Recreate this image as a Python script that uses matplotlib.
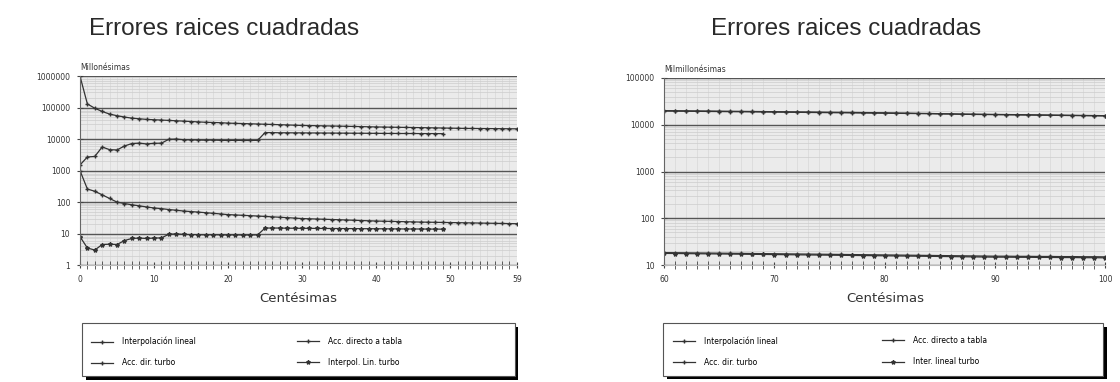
import numpy as np
import matplotlib
matplotlib.use("Agg")
import matplotlib.pyplot as plt
from matplotlib.patches import Rectangle
from matplotlib.ticker import FixedLocator, NullFormatter

# Datos (errores en millonesimas / milmillonesimas)
x_izq = list(range(0, 60))
acc_tabla_izq = [1000000, 130000, 95000, 75000, 62000, 55000, 50000, 46000, 44000, 42000,
                 41000, 40000, 39000, 38000, 37000, 36000, 35000, 34000, 33500, 33000,
                 32000, 31500, 31000, 30500, 30000, 29500, 29000, 28500, 28000, 27500,
                 27000, 26800, 26500, 26200, 26000, 25700, 25400, 25100, 24800, 24500,
                 24200, 24000, 23800, 23600, 23400, 23200, 23000, 22800, 22600, 22400,
                 22200, 22000, 21800, 21700, 21600, 21500, 21400, 21300, 21200, 21100]
interp_lineal_izq = [1000, 260, 220, 170, 130, 100, 90, 82, 76, 70,
                     65, 62, 58, 55, 52, 50, 48, 46, 44, 42,
                     40, 39, 38, 37, 36, 35, 34, 33, 32, 31,
                     30, 29.5, 29, 28.5, 28, 27.5, 27, 26.5, 26, 25.5,
                     25, 24.7, 24.4, 24.1, 23.8, 23.5, 23.2, 23, 22.8, 22.6,
                     22.4, 22.2, 22, 21.8, 21.6, 21.4, 21.2, 21, 20.8, 20.6]
x_paso = list(range(0, 50))
acc_turbo_izq = [1500, 2700, 2800, 5600, 4600, 4500, 6000, 7200, 7400, 7000,
                 7300, 7400, 9800, 10000, 9500, 9400, 9300, 9200, 9300, 9100,
                 9000, 9100, 9000, 9000, 9100, 16000, 16000, 15800, 15800, 15700,
                 15700, 15600, 15600, 15500, 15500, 15400, 15400, 15300, 15300, 15200,
                 15200, 15100, 15100, 15000, 15000, 15000, 14900, 14900, 14900, 14800]
interp_turbo_izq = [8, 3.5, 3, 4.5, 4.6, 4.5, 6, 7, 7.2, 7,
                    7.2, 7.3, 9.5, 9.8, 9.4, 9.3, 9.2, 9.1, 9.2, 9.1,
                    9, 9.1, 9, 9, 9.1, 15, 15, 15, 14.8, 14.8,
                    14.7, 14.7, 14.6, 14.6, 14.5, 14.5, 14.4, 14.4, 14.3, 14.3,
                    14.2, 14.2, 14.1, 14.1, 14, 14, 14, 13.9, 13.9, 13.8]

x_der = list(range(60, 101))
acc_tabla_der = [20000, 19900, 19800, 19700, 19600, 19500, 19400, 19300, 19200, 19100,
                 19000, 18900, 18800, 18700, 18600, 18500, 18400, 18300, 18200, 18100,
                 18000, 17800, 17700, 17500, 17400, 17200, 17100, 16900, 16800, 16700,
                 16600, 16500, 16400, 16300, 16200, 16100, 16000, 15900, 15800, 15700, 15600]
acc_turbo_der = [19600, 19500, 19400, 19300, 19200, 19100, 19000, 18900, 18800, 18700,
                 18600, 18500, 18400, 18300, 18200, 18100, 18000, 17900, 17800, 17700,
                 17600, 17500, 17400, 17300, 17200, 17000, 16900, 16700, 16600, 16500,
                 16400, 16300, 16200, 16100, 16000, 15900, 15800, 15700, 15600, 15500, 15400]
interp_lineal_der = [18.5, 18.4, 18.3, 18.2, 18.1, 18, 17.9, 17.8, 17.7, 17.6,
                     17.5, 17.4, 17.3, 17.2, 17.1, 17, 16.9, 16.8, 16.7, 16.6,
                     16.5, 16.4, 16.3, 16.2, 16.1, 16, 15.9, 15.8, 15.7, 15.6,
                     15.5, 15.5, 15.4, 15.4, 15.3, 15.3, 15.2, 15.2, 15.1, 15.1, 15]
interp_turbo_der = [17.8, 17.7, 17.6, 17.5, 17.4, 17.3, 17.2, 17.1, 17, 16.9,
                    16.8, 16.7, 16.6, 16.5, 16.4, 16.3, 16.2, 16.1, 16, 15.9,
                    15.8, 15.7, 15.6, 15.5, 15.4, 15.3, 15.2, 15.1, 15, 14.9,
                    14.8, 14.8, 14.7, 14.7, 14.6, 14.6, 14.5, 14.5, 14.4, 14.4, 14.3]

yticks_izq = [1, 10, 100, 1000, 10000, 100000, 1000000]
yticks_der = [10, 100, 1000, 10000, 100000]
xticks_izq = [0, 10, 20, 30, 40, 50, 59]
xticks_der = [60, 70, 80, 90, 100]

etiquetas_izq = ["Interpolación lineal", "Acc. directo a tabla", "Acc. dir. turbo", "Interpol. Lin. turbo"]
etiquetas_der = ["Interpolación lineal", "Acc. directo a tabla", "Acc. dir. turbo", "Inter. lineal turbo"]

plt.rcParams["font.family"] = ["DejaVu Sans"]
fig = plt.figure(figsize=(11.2, 3.82), dpi=100)


def preparar(ax, xmin, xmax, yticks, xticks):
    ax.set_yscale("log")
    ax.set_xlim(xmin, xmax)
    ax.set_ylim(yticks[0], yticks[-1])
    ax.set_facecolor("#ebebeb")
    ax.yaxis.set_major_locator(FixedLocator(yticks))
    ax.set_yticklabels([str(t) for t in yticks])
    minors = [d * m for d in yticks[:-1] for m in range(2, 10)]
    ax.yaxis.set_minor_locator(FixedLocator(minors))
    ax.yaxis.set_minor_formatter(NullFormatter())
    ax.set_xticks(xticks)
    ax.set_xticks(range(xmin, xmax + 1), minor=True)
    ax.grid(True, which="major", axis="y", color="#555555", linewidth=1.0)
    ax.grid(True, which="minor", axis="y", color="#cccccc", linewidth=0.5)
    ax.grid(True, which="minor", axis="x", color="#d8d8d8", linewidth=0.5)
    ax.tick_params(axis="both", which="major", labelsize=5.5, length=4, direction="inout",
                   color="#444444", labelcolor="#333333", pad=5)
    ax.tick_params(axis="x", which="minor", length=6, direction="inout", color="#444444")
    ax.tick_params(axis="y", which="minor", length=0)
    for s in ["top", "right"]:
        ax.spines[s].set_visible(False)
    ax.spines["left"].set_color("#666666")
    ax.spines["bottom"].set_color("#bbbbbb")
    ax.set_axisbelow(True)


def leyenda(ax, caja, col1, col2):
    # caja: (x0, x1, y_arriba, y_abajo) en coordenadas de ejes
    x0, x1, ya, yb = caja
    t = ax.transAxes
    ax.add_patch(Rectangle((x0 + 0.008, yb - 0.018), x1 - x0, ya - yb, transform=t,
                           facecolor="black", edgecolor="none", clip_on=False, zorder=5))
    ax.add_patch(Rectangle((x0, yb), x1 - x0, ya - yb, transform=t, facecolor="white",
                           edgecolor="#555555", linewidth=0.8, clip_on=False, zorder=6))
    h, l = ax.get_legend_handles_labels()
    comunes = dict(loc="upper left", frameon=False, fontsize=5.5, borderpad=0, borderaxespad=0,
                   handlelength=2.9, handletextpad=1.2, labelspacing=1.6)
    ley1 = ax.legend([h[0], h[2]], [l[0], l[2]], bbox_to_anchor=(col1, -0.379), **comunes)
    ley1.set_zorder(7)
    ax.add_artist(ley1)
    ley2 = ax.legend([h[1], h[3]], [l[1], l[3]], bbox_to_anchor=(col2, -0.379), **comunes)
    ley2.set_zorder(7)


# Grafico izquierdo
ax1 = fig.add_axes([0.0714, 0.306, 0.390, 0.495])
preparar(ax1, 0, 59, yticks_izq, xticks_izq)
ax1.plot(x_izq, interp_lineal_izq, color="#333333", lw=0.9, marker="+", ms=3, label=etiquetas_izq[0])
ax1.plot(x_izq, acc_tabla_izq, color="#333333", lw=0.9, marker="+", ms=3, label=etiquetas_izq[1])
ax1.plot(x_paso, acc_turbo_izq, color="#333333", lw=0.9, marker="+", ms=3.5, label=etiquetas_izq[2])
ax1.plot(x_paso, interp_turbo_izq, color="#333333", lw=0.9, marker="*", ms=3, label=etiquetas_izq[3])
ax1.set_xlabel("Centésimas", fontsize=9.5, labelpad=6, color="#333333")
ax1.text(0, 1.02, "Millonésimas", transform=ax1.transAxes, fontsize=5.5, va="bottom", color="#333333")
leyenda(ax1, (0.005, 0.995, -0.307, -0.587), 0.025, 0.496)

# Grafico derecho
ax2 = fig.add_axes([0.593, 0.306, 0.394, 0.490])
preparar(ax2, 60, 100, yticks_der, xticks_der)
ax2.plot(x_der, interp_lineal_der, color="#333333", lw=0.9, marker="+", ms=3, label=etiquetas_der[0])
ax2.plot(x_der, acc_tabla_der, color="#333333", lw=0.9, marker="+", ms=3, label=etiquetas_der[1])
ax2.plot(x_der, acc_turbo_der, color="#333333", lw=0.9, marker="+", ms=3.5, label=etiquetas_der[2])
ax2.plot(x_der, interp_turbo_der, color="#333333", lw=0.9, marker="*", ms=3, label=etiquetas_der[3])
ax2.set_xlabel("Centésimas", fontsize=9.5, labelpad=6, color="#333333")
ax2.text(0, 1.02, "Milmillonésimas", transform=ax2.transAxes, fontsize=5.5, va="bottom", color="#333333")
leyenda(ax2, (-0.002, 0.995, -0.310, -0.593), 0.02, 0.494)

fig.text(0.20, 0.925, "Errores raices cuadradas", fontsize=17.5, ha="center", va="center",
         color="#2a2a2a", family=["Liberation Sans"])
fig.text(0.755, 0.925, "Errores raices cuadradas", fontsize=17.5, ha="center", va="center",
         color="#2a2a2a", family=["Liberation Sans"])

fig.savefig("out.png", dpi=100)
